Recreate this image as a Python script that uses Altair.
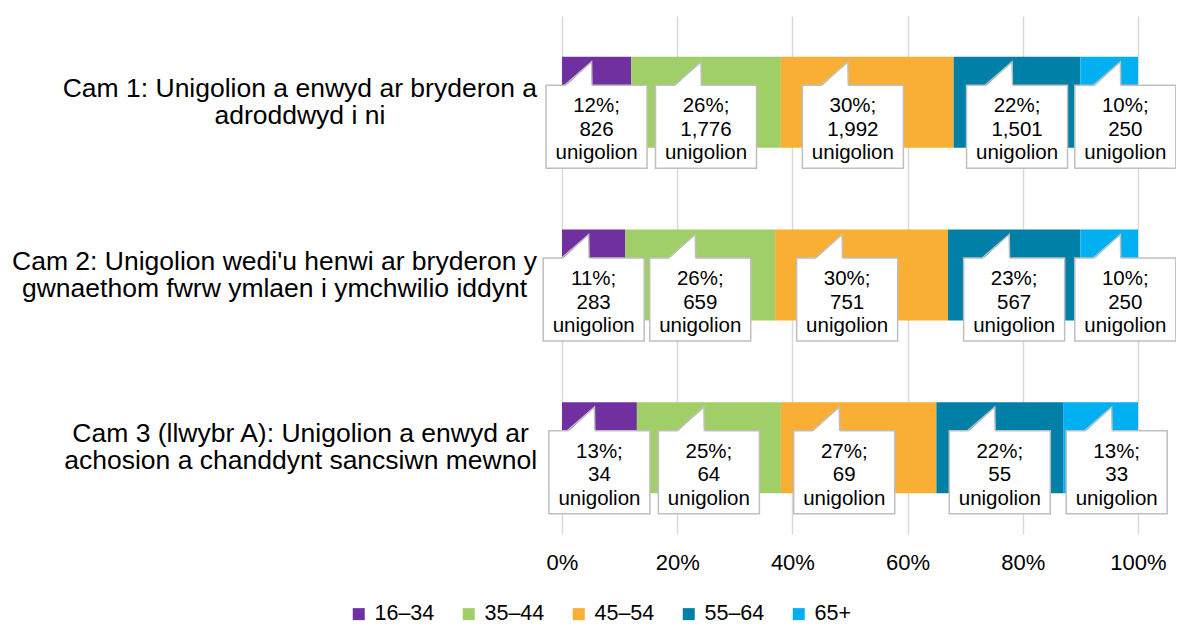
import altair as alt
import pandas as pd

# ---------------- data ----------------
stages = [
    "Cam 1: Unigolion a enwyd ar bryderon a|adroddwyd i ni",
    "Cam 2: Unigolion wedi'u henwi ar bryderon y|gwnaethom fwrw ymlaen i ymchwilio iddynt",
    "Cam 3 (llwybr A): Unigolion a enwyd ar|achosion a chanddynt sancsiwn mewnol",
]
age_groups = ["16–34", "35–44", "45–54", "55–64", "65+"]
colours = ["#7030A0", "#A0CF67", "#F9AE34", "#0080A6", "#00B0F0"]

pct_cam1 = [12, 26, 30, 22, 10]
pct_cam2 = [11, 26, 30, 23, 10]
pct_cam3 = [13, 25, 27, 22, 13]
n_cam1 = [826, 1776, 1992, 1501, 250]
n_cam2 = [283, 659, 751, 567, 250]
n_cam3 = [34, 64, 69, 55, 33]
tick_values = [0, 20, 40, 60, 80, 100]

# ---------------- layout constants ----------------
W, H = 576, 518
PX = 100 / W      # percent per pixel
PY = 3 / H        # row units per pixel
BOX_SHIFT = [0, 0, -2.5, 0, 2.8]   # callout horizontal nudge per segment (percent)
FONT = "Liberation Sans"
BORDER = "#BFBFBF"
ROW_FS = 26.5
LABEL_GAP = 25    # px between the row-label block and the plot's left edge

# Liberation Sans / Arial advance widths (em/1000) for measuring the row labels
CW = {" ": 278, "'": 191, "(": 333, ")": 333, ":": 278, "1": 556, "2": 556, "3": 556,
      "A": 667, "C": 722, "U": 722, "a": 556, "b": 556, "c": 500, "d": 556, "e": 556,
      "f": 278, "g": 556, "h": 556, "i": 222, "l": 222, "m": 833, "n": 556, "o": 556,
      "r": 333, "s": 500, "t": 278, "u": 556, "w": 722, "y": 500, "k": 500, "v": 500}


def text_w(s, fs):
    return sum(CW.get(ch, 556) for ch in s) / 1000 * fs


rows = []
for r, (stage, pcts, ns) in enumerate(zip(stages, [pct_cam1, pct_cam2, pct_cam3],
                                          [n_cam1, n_cam2, n_cam3])):
    start = 0
    for k, (age, p, n) in enumerate(zip(age_groups, pcts, ns)):
        rows.append(dict(stage=stage, row=r, age=age, k=k, pct=p, n=n,
                         mid=start + p / 2,
                         label=f"{p}%;\n{n:,}\nunigolion"))
        start += p
df = pd.DataFrame(rows)

df["key"] = df["row"].astype(str) + "-" + df["k"].astype(str)
df["cx"] = df["mid"] + df["k"].map(lambda k: BOX_SHIFT[k])
df["bx0"] = df["cx"] - 50.5 * PX
df["bx1"] = df["cx"] + 50.5 * PX
df["by0"] = df["row"] - 17 * PY
df["by1"] = df["row"] + 66 * PY
df["ty"] = df["row"] + 4 * PY

# row labels: block right-aligned, lines centred within block
lab = []
for r, stage in enumerate(stages):
    lines = stage.split("|")
    maxw = max(text_w(l, ROW_FS) for l in lines)
    lab.append(dict(row=r, text="\n".join(lines),
                    lx=(-LABEL_GAP - maxw / 2) * PX,
                    ly=r - 13.5 * PY))
dl = pd.DataFrame(lab)

# pointer geometry
ptr = []
for _, d in df.iterrows():
    xl = d.cx - 32 * PX
    xt = d.cx - 5 * PX
    xr = xt + 0.4 * PX
    ytip = d.row - 45.5 * PY + 5 * PY
    yb = d.by0
    ybi = d.by0 + 1.6 * PY
    for s, (x, y) in enumerate([(xl, yb), (xt, ytip), (xr, yb)]):
        ptr.append(dict(key=d.key, seq=s, px=x, py=y, pyi=(ybi if s != 1 else ytip), pb=ybi))
dp = pd.DataFrame(ptr)

xscale = alt.Scale(domain=[0, 100], nice=False, zero=False)
xaxis = alt.Axis(values=tick_values, labelExpr="datum.value + '%'", title=None,
                 grid=True, gridColor="#D9D9D9", gridWidth=1.5, domain=False,
                 ticks=False, labelFontSize=22, labelPadding=18, labelFlush=False,
                 labelColor="#000000", labelFont=FONT)
yq = alt.Scale(domain=[-0.5, 2.5], reverse=True, nice=False, zero=False)

bars = alt.Chart(df).mark_bar().encode(
    x=alt.X("pct:Q", stack="zero", scale=xscale, axis=xaxis),
    y=alt.Y("stage:N", sort=stages,
            scale=alt.Scale(paddingInner=0.473, paddingOuter=0.2365), axis=None),
    color=alt.Color("age:N", scale=alt.Scale(domain=age_groups, range=colours),
                    legend=alt.Legend(title=None, orient="none", legendX=-214, legendY=587,
                                      direction="horizontal", symbolType="square",
                                      symbolSize=144, labelFontSize=21.5, columnPadding=23,
                                      labelOffset=5, symbolStrokeWidth=0,
                                      labelFont=FONT, labelColor="#000000")),
    order=alt.Order("k:Q"),
)

row_labels = alt.Chart(dl).mark_text(fontSize=ROW_FS, font=FONT, lineBreak="\n", lineHeight=27,
                                     align="center", baseline="middle", color="#000000").encode(
    x=alt.X("lx:Q", scale=xscale, axis=xaxis),
    y=alt.Y("ly:Q", scale=yq, axis=None),
    text="text:N",
)

boxes = alt.Chart(df).mark_rect(fill="white", stroke=BORDER, strokeWidth=1.5).encode(
    x=alt.X("bx0:Q", scale=xscale, axis=xaxis), x2="bx1:Q",
    y=alt.Y("by0:Q", scale=yq, axis=None), y2="by1:Q",
)

ptr_fill = alt.Chart(dp).mark_area(fill="white", strokeWidth=0).encode(
    x=alt.X("px:Q", scale=xscale, axis=xaxis),
    y=alt.Y("pyi:Q", scale=yq, axis=None), y2="pb:Q",
    detail="key:N",
)

ptr_line = alt.Chart(dp).mark_line(color=BORDER, strokeWidth=1.5).encode(
    x=alt.X("px:Q", scale=xscale, axis=xaxis),
    y=alt.Y("py:Q", scale=yq, axis=None),
    detail="key:N", order="seq:Q",
)

texts = alt.Chart(df).mark_text(fontSize=20.5, font=FONT, lineBreak="\n", lineHeight=23.5,
                                align="center", baseline="middle", color="#000000").encode(
    x=alt.X("cx:Q", scale=xscale, axis=xaxis),
    y=alt.Y("ty:Q", scale=yq, axis=None),
    text="label:N",
)

callouts = alt.layer(row_labels, boxes, ptr_fill, ptr_line, texts)

chart = alt.layer(bars, callouts).resolve_scale(y="independent").properties(
    width=W, height=H,
    autosize=alt.AutoSizeParams(type="none"),
    padding={"left": 554, "top": 8, "right": 38, "bottom": 92},
).configure(font=FONT).configure_view(strokeWidth=0)

chart.save("out.html", embed_options={"renderer": "svg", "actions": False})
